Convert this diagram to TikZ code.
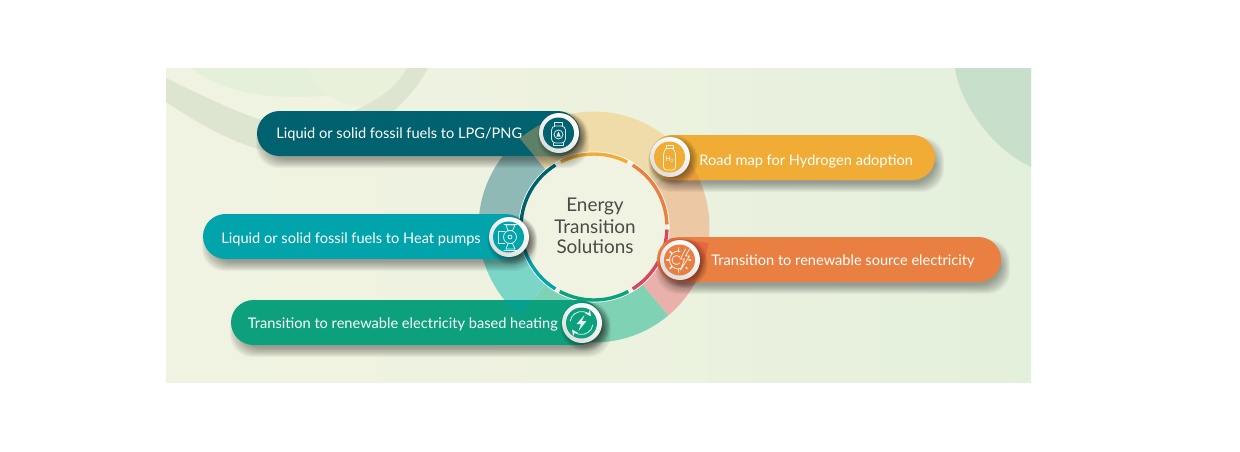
\documentclass[tikz,border=0pt]{standalone}
\usepackage{fontspec}
\setmainfont{Lato}
\usetikzlibrary{arrows.meta}
\definecolor{cdark}{HTML}{00616F}
\definecolor{cteal}{HTML}{02A4AC}
\definecolor{cgreen}{HTML}{0CA07C}
\definecolor{cyellow}{HTML}{F0AC34}
\definecolor{corange}{HTML}{E98042}
\definecolor{cred}{HTML}{D8475F}
\definecolor{bgl}{HTML}{F0F3E1}
\definecolor{bgm}{HTML}{EDF2DF}
\definecolor{bgr}{HTML}{E3F0DC}
\definecolor{inkc}{HTML}{4A4A48}
\definecolor{swoosh}{HTML}{DDE5D0}
\definecolor{blob}{HTML}{C8DFCC}
\definecolor{tintg}{HTML}{E5F0DB}
\definecolor{globe}{HTML}{EAF1DB}
\definecolor{bgrayteal}{HTML}{8FB9B5}
\definecolor{btan}{HTML}{F0DCA8}
\definecolor{bpeach}{HTML}{ECC8A4}
\definecolor{bpink}{HTML}{E9B1A9}
\definecolor{bgreen}{HTML}{80D2B4}
\definecolor{bteal}{HTML}{7CD6C8}
\definecolor{ovdark}{HTML}{5E8066}
\definecolor{ovyellow}{HTML}{E99B3C}
\definecolor{ovorange}{HTML}{E4683F}
\definecolor{ovgreen}{HTML}{06A090}
\tikzset{
  pilltext/.style={anchor=west,text=white,inner sep=0pt,font=\fontsize{7.3}{9}\selectfont},
  centertext/.style={text=inkc,inner sep=0pt,font=\fontsize{9.45}{10.5}\selectfont},
  icon/.style={draw=white,line width=0.4pt,line join=round,line cap=round,opacity=.85},
  iconfill/.style={fill=white,draw=none,opacity=.9}
}
\newcommand\bandsector[3]{\fill[#1] (#2:115.5) arc[start angle=#2,end angle=#3,radius=115.5] -- (#3:74) arc[start angle=#3,end angle=#2,radius=74] -- cycle;}
\newcommand\ringseg[3]{\draw[#1,line width=1.7pt] (#2:73) arc[start angle=#2,end angle=#3,radius=73];}
\newcommand\pillshadow[4]{\foreach \e in {5,4,...,-4}{\fill[black,opacity=.038,rounded corners=11.25pt] (#1+4-\e,#2+7-\e) rectangle (#3+4+\e,#4+7+\e);}}
\newcommand\pillbody[5]{\fill[#1,rounded corners=11.25pt] (#2,#3) rectangle (#4,#5);}
\newcommand\bandonpill[7]{\begin{scope}
  \clip[rounded corners=11.25pt] (#2,#3) rectangle (#4,#5);
  \begin{scope}[shift={(594,227)},yscale=-1]\bandsector{#1}{#6}{#7}\end{scope}
\end{scope}}
\newcommand\badge[3]{%
  \foreach \e in {5,4,...,-3}{\fill[black,opacity=.05] (#1+3,#2+3) circle[radius=20+\e];}
  \shade[left color=white,right color=black!13,shading angle=-35] (#1,#2) circle[radius=20];
  \fill[#3] (#1-0.5,#2) circle[radius=15.5];}
\begin{document}
\begin{tikzpicture}[x=0.5pt,y=-0.5pt]
\useasboundingbox (0,0) rectangle (1240,451);
\fill[white] (0,0) rectangle (1240,451);
% background
\shade[left color=bgl,right color=bgr,middle color=bgm] (166,68) rectangle (1031,382);
\begin{scope}
  \clip (166,68) rectangle (1031,382);
  \fill[tintg] (190,68) .. controls (220,90) and (260,100) .. (320,96) .. controls (360,92) and (400,80) .. (420,68) -- cycle;
  \fill[globe] (362,48) circle[radius=58];
  \fill[swoosh]
    (166,78) .. controls (195,92) and (235,112) .. (262,120)
    .. controls (310,132) and (385,110) .. (407,68)
    -- (428,68) .. controls (395,130) and (320,160) .. (262,150)
    .. controls (225,140) and (190,118) .. (166,102) -- cycle;
  \fill[blob]
    (955,68) .. controls (958,95) and (985,145) .. (1031,167) -- (1031,68) -- cycle;
\end{scope}
% band
\begin{scope}[shift={(594,227)},yscale=-1]
  \bandsector{bgrayteal}{130}{185}
  \bandsector{btan}{35}{130}
  \bandsector{bpeach}{-8}{35}
  \bandsector{bpink}{-50}{-8}
  \bandsector{bgreen}{-130}{-50}
  \bandsector{bteal}{-175}{-130}
  \fill[white] (0,0) circle[radius=75.5];
  \fill[bgl] (0,0) circle[radius=74];
  \ringseg{cyellow}{63}{117}
  \ringseg{corange}{2}{58}
  \ringseg{cred}{-58}{-2}
  \ringseg{cgreen}{-118}{-62}
  \ringseg{cteal}{-178}{-122}
  \ringseg{cdark}{122}{178}
\end{scope}
% pills
\pillshadow{257}{111}{580}{156}
\pillbody{cdark}{257}{111}{580}{156}
\pillshadow{203}{214}{528}{259}
\pillbody{cteal}{203}{214}{528}{259}
\pillshadow{231}{300}{602}{345}
\pillbody{cgreen}{231}{300}{602}{345}
\pillshadow{650}{135}{935}{180}
\pillbody{cyellow}{650}{135}{935}{180}
\pillshadow{657}{237}{1001}{282}
\pillbody{corange}{657}{237}{1001}{282}
% translucent band ends lying on the pills
\bandonpill{ovdark}{257}{111}{580}{156}{35}{130}
\bandonpill{ovyellow}{650}{135}{935}{180}{-8}{35}
\bandonpill{ovorange}{657}{237}{1001}{282}{-50}{-8}
\bandonpill{ovgreen}{231}{300}{602}{345}{-170}{-130}
% badges
\badge{559}{133}{cdark}
\badge{670}{157}{cyellow}
\badge{680}{260}{corange}
\badge{509}{237}{cteal}
\badge{582}{323}{cgreen}
% cylinder icon
\begin{scope}[shift={(558.5,133)}]
  \draw[icon,rounded corners=2pt] (-7,-7) rectangle (7,10);
  \draw[icon] (-4,-7) -- (-4,-11) -- (4,-11) -- (4,-7);
  \draw[icon] (-5,10) -- (-5,12) -- (5,12) -- (5,10);
  \draw[icon] (0,1.5) circle[radius=4.5];
  \fill[iconfill] (0,-1.5) -- (2.2,3.5) -- (-2.2,3.5) -- cycle;
\end{scope}
% bottle icon
\begin{scope}[shift={(669.5,157)}]
  \draw[icon,rounded corners=1.6pt] (-3,-9) -- (-6,-5) -- (-6,13) -- (6,13) -- (6,-5) -- (3,-9);
  \draw[icon] (-3.5,-12) -- (-3.5,-9) -- (3.5,-9) -- (3.5,-12) -- cycle;
  \node[text=white,inner sep=0pt,font=\fontsize{3.6}{4}\selectfont] (htwo) at (0,2) {H\raisebox{-.3ex}{\fontsize{2.2}{2}\selectfont 2}};
\end{scope}
% gear and bolt icon
\begin{scope}[shift={(679.5,260)}]
  \draw[icon] (-1,0) circle[radius=9];
  \foreach \a in {90,135,...,405}{\draw[icon,line width=.75pt] (-1,0) ++(\a:9) -- ++(\a:3);}
  \draw[icon] (-3,0) circle[radius=4.5];
  \fill[corange] (1,-11) -- (9,-11) -- (9,2) -- (4,11) -- (0,5) -- cycle;
  \draw[icon] (6,-11) -- (1,-1) -- (5,-1) -- (1,10) -- (10,-4) -- (6,-4) -- (10,-11);
\end{scope}
% pump icon
\begin{scope}[shift={(509,237)}]
  \draw[icon] (1,0) circle[radius=6.5];
  \draw[icon] (1,0) circle[radius=2];
  \draw[icon] (-4,-6) -- (-11,-6) -- (-11,6) -- (-4,6);
  \draw[icon] (-3,-12) -- (6,-12) -- (3.5,-6.5) -- (-1,-6.5) -- cycle;
  \draw[icon] (-3,12) -- (6,12) -- (3.5,6.5) -- (-1,6.5) -- cycle;
  \draw[icon] (-5,-13) -- (8,-13);
  \draw[icon] (-5,13) -- (8,13);
\end{scope}
% renewal icon
\begin{scope}[shift={(581.5,323)},yscale=-1]
  \draw[icon,-{Stealth[length=3pt,width=3pt]}] (170:11.5) arc[start angle=170,end angle=35,radius=11.5];
  \draw[icon,-{Stealth[length=3pt,width=3pt]}] (-10:11.5) arc[start angle=-10,end angle=-145,radius=11.5];
  \fill[iconfill] (3,8) -- (-5,-1) -- (-0.5,-1) -- (-3,-8) -- (5,2) -- (0.5,2) -- cycle;
\end{scope}
% texts
\node[pilltext] (t1) at (276,134) {Liquid or solid fossil fuels to LPG/PNG};
\node[pilltext] (t2) at (221,239) {Liquid or solid fossil fuels to Heat pumps};
\node[pilltext] (t3) at (247.5,324) {Transition to renewable electricity based heating};
\node[pilltext] (t4) at (699,161) {Road map for Hydrogen adoption};
\node[pilltext] (t5) at (711,261) {Transition to renewable source electricity};
\node[centertext] (c1) at (595,206) {Energy};
\node[centertext] (c2) at (595,226.5) {Transition};
\node[centertext] (c3) at (595,247) {Solutions};
\end{tikzpicture}
\end{document}
